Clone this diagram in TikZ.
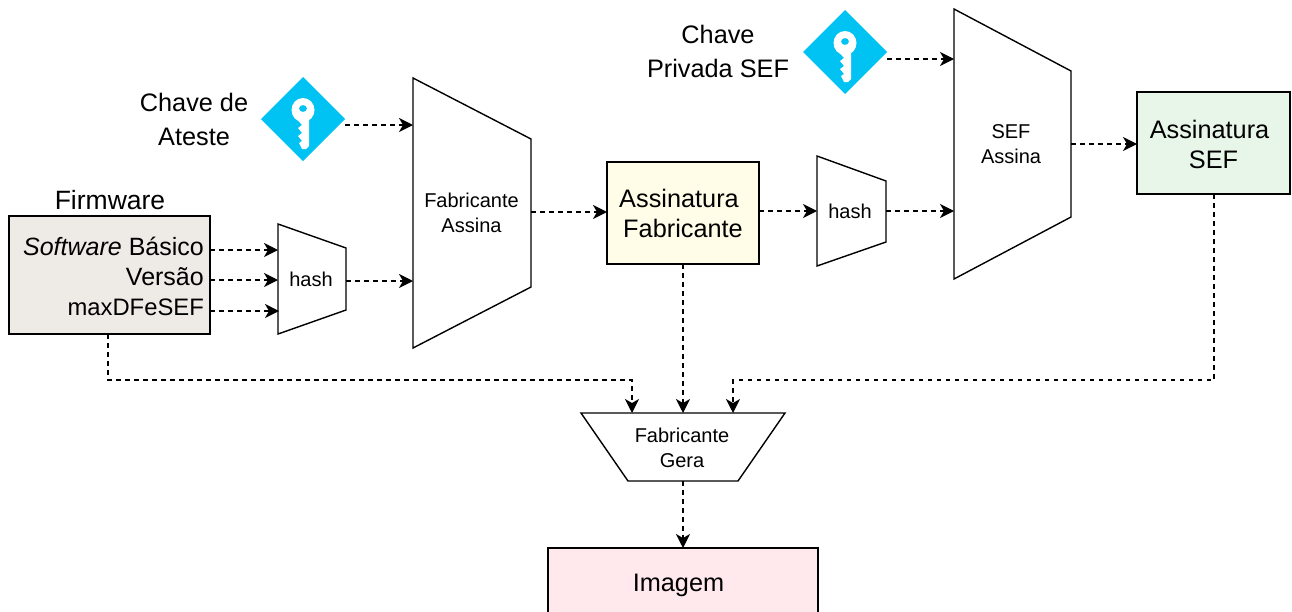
\documentclass[tikz,border=0pt]{standalone}
\usepackage{fontspec}
\setmainfont{Liberation Sans}
\usetikzlibrary{arrows.meta}
\tikzset{
  x=1pt,y=-1pt,
  boxnode/.style={draw=black,line width=1.4pt,inner sep=0pt,outer sep=0pt,align=center,font=\fontsize{25.3}{30}\selectfont},
  mux/.style={draw=black,line width=1.4pt,fill=white,line join=miter},
  muxtext/.style={align=center,inner sep=0pt,font=\fontsize{20}{25}\selectfont},
  bigtext/.style={align=center,inner sep=0pt,font=\fontsize{25.3}{34}\selectfont},
  linetext/.style={anchor=east,inner sep=0pt,font=\fontsize{25}{30}\selectfont},
  conn/.style={draw=black,line width=1.4pt,dash pattern=on 4.5pt off 4.5pt,
    -{Stealth[length=14pt,width=14pt,inset=4pt]}},
  keydiamond/.style={fill=keyblue,draw=none},
  keywhite/.style={fill=white,draw=none},
}
\definecolor{keyblue}{HTML}{00C3F4}
\definecolor{fwfill}{HTML}{EEEAE6}
\definecolor{fabfill}{HTML}{FFFDE8}
\definecolor{seffill}{HTML}{E8F5E9}
\definecolor{imgfill}{HTML}{FFE9EC}
\newcommand{\keyicon}[2]{%
  \fill[keydiamond] (#1-42,#2) -- (#1,#2-42) -- (#1+42,#2) -- (#1,#2+42) -- cycle;
  \fill[keywhite,even odd rule] (#1,#2-9) ellipse [x radius=11.5,y radius=12]
     (#1,#2-10.5) ellipse [x radius=4,y radius=3.5];
  \fill[keywhite] (#1-4.5,#2-1) -- (#1+6,#2-1) -- (#1+6,#2+27) -- (#1+3,#2+30) -- (#1-1,#2+30)
     -- (#1-4,#2+24) -- (#1-1,#2+22) -- (#1-5,#2+17) -- (#1-1,#2+14) -- (#1-5,#2+9) -- (#1-1,#2+6) -- (#1-4.5,#2+2) -- cycle;
}
\begin{document}
\begin{tikzpicture}
\useasboundingbox (0,0) rectangle (1292,611);
% boxes
\node[boxnode,fill=fwfill,anchor=north west,minimum width=201pt,minimum height=118pt] (fw) at (9,216) {};
\node[boxnode,fill=fabfill,minimum width=152pt,minimum height=102pt] (af) at (683,213) {Assinatura\hspace*{8pt}\\ Fabricante};
\node[boxnode,fill=seffill,minimum width=153pt,minimum height=102pt] (as) at (1213.5,143) {};
\node[boxnode,draw=none,align=center] (ast) at (1213.5,144.5) {Assinatura\hspace*{8pt}\\ SEF};
\node[boxnode,fill=imgfill,anchor=north,minimum width=270pt,minimum height=80pt] (img) at (683,548) {};
\node[inner sep=0pt,font=\fontsize{25.3}{30}\selectfont] (imgt) at (678.5,585) {Imagem};
% firmware labels
\node[bigtext,font=\fontsize{26.5}{34}\selectfont] (fwt) at (110,200) {Firmware};
\node[linetext] (l1) at (204,246) {\textit{Software} Básico};
\node[linetext] (l2) at (204,277) {Versão};
\node[linetext,font=\fontsize{23.8}{30}\selectfont] (l3) at (204,307) {maxDFeSEF};
% trapezoids
\draw[mux] (278,224) -- (346,248) -- (346,310) -- (278,334) -- cycle;
\node[muxtext] (h1) at (311,279.5) {hash};
\draw[mux] (413,78) -- (531,139) -- (531,287) -- (413,348) -- cycle;
\node[muxtext] (fa) at (471.5,212.5) {Fabricante\\Assina};
\draw[mux] (817,156) -- (886,181) -- (886,242) -- (817,266) -- cycle;
\node[muxtext] (h2) at (850,211) {hash};
\draw[mux] (954,9) -- (1071,71) -- (1071,217) -- (954,279) -- cycle;
\node[muxtext] (sa) at (1011,144) {SEF\\Assina};
\draw[mux] (581,413) -- (785,413) -- (738,481) -- (628,481) -- cycle;
\node[muxtext] (fg) at (682,447.5) {Fabricante\\Gera};
% keys
\keyicon{303}{119}
\keyicon{845}{52}
\node[bigtext] (k1t) at (194,119) {Chave de\\Ateste};
\node[bigtext] (k2t) at (718,51.5) {Chave\\Privada SEF};
% ports
\coordinate (k1) at (345,125); \coordinate (k2) at (887,59);
\coordinate (f1) at (210,250); \coordinate (h1i1) at (278,250);
\coordinate (f2) at (210,280); \coordinate (h1i2) at (278,280);
\coordinate (f3) at (210,311); \coordinate (h1i3) at (279,311);
\coordinate (h1o) at (346,281); \coordinate (fai2) at (413,281);
\coordinate (fai1) at (413,125);
\coordinate (fao) at (531,212); \coordinate (afi) at (607,212);
\coordinate (afo) at (759,211); \coordinate (h2i) at (817,211);
\coordinate (h2o) at (886,211); \coordinate (sai2) at (954,211);
\coordinate (sai1) at (954,59);
\coordinate (sao) at (1071,144); \coordinate (asi) at (1137,144);
\coordinate (gi1) at (632,413); \coordinate (gi2) at (683,413); \coordinate (gi3) at (733,413);
\coordinate (go) at (683,481); \coordinate (imgi) at (683,548);
\coordinate (fwb) at (108,334); \coordinate (afb) at (683,264); \coordinate (asb) at (1214,194);
\coordinate (c1) at (108,380); \coordinate (c2) at (632,380);
\coordinate (c3) at (1214,380); \coordinate (c4) at (733,380);
% connectors
\draw[conn] (f1) -- (h1i1);
\draw[conn] (f2) -- (h1i2);
\draw[conn] (f3) -- (h1i3);
\draw[conn] (h1o) -- (fai2);
\draw[conn] (k1) -- (fai1);
\draw[conn] (fao) -- (afi);
\draw[conn] (afo) -- (h2i);
\draw[conn] (h2o) -- (sai2);
\draw[conn] (k2) -- (sai1);
\draw[conn] (sao) -- (asi);
\draw[conn] (fwb) -- (c1) -- (c2) -- (gi1);
\draw[conn] (afb) -- (gi2);
\draw[conn] (asb) -- (c3) -- (c4) -- (gi3);
\draw[conn] (go) -- (imgi);
\end{tikzpicture}
\end{document}
